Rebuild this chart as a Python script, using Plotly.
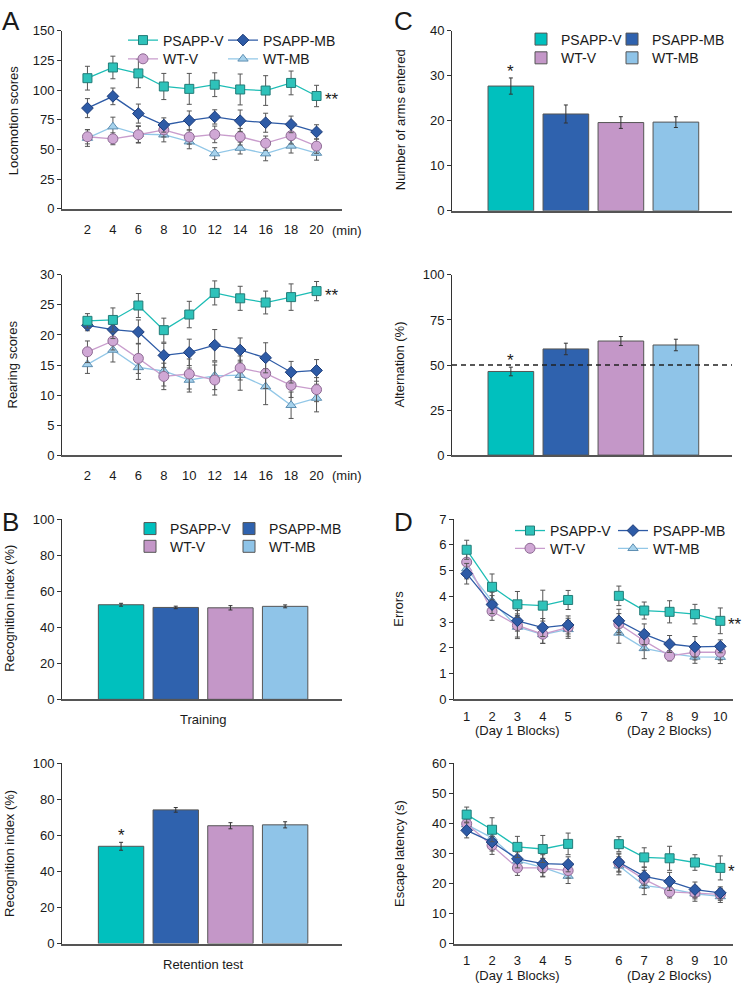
import plotly.graph_objects as go

W, H = 745, 991
FONT = "Liberation Sans"
TXT = "#1a1a1a"

groups = ["PSAPP-V", "PSAPP-MB", "WT-V", "WT-MB"]

# ---------- Panel A: open field ----------
minutes = [2, 4, 6, 8, 10, 12, 14, 16, 18, 20]
loco = {
    "PSAPP-V": [110, 119, 114, 103, 101, 104.5, 100.5, 99.6, 106, 95],
    "PSAPP-MB": [84.8, 94.7, 80.2, 70.6, 74.4, 77.4, 74.2, 72.5, 71.1, 64.8],
    "WT-V": [60.7, 59, 62.4, 66.5, 60.5, 62.7, 60.7, 55.3, 61.6, 52.8],
    "WT-MB": [59.6, 69.2, 62.9, 62.4, 56.6, 46.5, 51.2, 46.5, 53, 47],
}
loco_sem = {
    "PSAPP-V": [10, 9.5, 12, 11, 13, 10, 13, 12.5, 10, 9],
    "PSAPP-MB": [8, 7, 8, 6, 8, 6, 9, 8, 7, 6],
    "WT-V": [6, 5, 7, 6, 6, 7, 7, 6, 7, 6],
    "WT-MB": [7, 8, 7, 6, 6, 5, 5, 6, 6, 6],
}
rear = {
    "PSAPP-V": [22.35, 22.5, 24.9, 20.8, 23.4, 27.0, 26.1, 25.4, 26.3, 27.3],
    "PSAPP-MB": [21.6, 20.9, 20.5, 16.6, 17.1, 18.3, 17.5, 16.2, 13.8, 14.1],
    "WT-V": [17.2, 19.0, 16.1, 13.1, 13.5, 12.5, 14.5, 13.6, 11.6, 10.9],
    "WT-MB": [15.1, 17.5, 14.6, 14.0, 12.5, 13.2, 13.3, 11.4, 8.3, 9.5],
}
rear_sem = {
    "PSAPP-V": [1.2, 2, 2, 2, 2.2, 2, 2, 1.9, 2.2, 1.6],
    "PSAPP-MB": [0.9, 1.5, 2, 2, 2.2, 2.6, 2, 2.5, 1.8, 1.8],
    "WT-V": [1.8, 1.5, 2.5, 2.2, 2.5, 2.5, 2, 2.5, 2, 2],
    "WT-MB": [1.5, 2, 2, 2.5, 2, 2.3, 2.5, 3, 2.2, 2.3],
}

# ---------- Panel B: novel object recognition ----------
nor_training = [52.5, 51.0, 50.8, 51.6]
nor_training_sem = [0.8, 0.7, 1.2, 0.8]
nor_retention = [54.0, 74.2, 65.4, 65.9]
nor_retention_sem = [2.2, 1.3, 1.7, 1.7]

# ---------- Panel C: Y-maze ----------
arms_entered = [27.7, 21.5, 19.6, 19.7]
arms_entered_sem = [1.8, 2.0, 1.3, 1.2]
alternation = [46.4, 58.9, 63.3, 61.1]
alternation_sem = [2.4, 3.2, 2.5, 3.2]
CHANCE_LEVEL = 50

# ---------- Panel D: water maze ----------
blocks = [1, 2, 3, 4, 5, 6, 7, 8, 9, 10]
block_ticktext = [str(b) for b in blocks]
errors = {
    "PSAPP-V": [5.81, 4.37, 3.69, 3.64, 3.86, 4.02, 3.45, 3.40, 3.31, 3.05],
    "PSAPP-MB": [4.88, 3.68, 3.05, 2.79, 2.89, 3.05, 2.53, 2.15, 2.04, 2.06],
    "WT-V": [5.33, 3.42, 2.87, 2.53, 2.80, 2.93, 2.27, 1.69, 1.83, 1.83],
    "WT-MB": [5.08, 3.81, 2.81, 2.52, 2.72, 2.58, 1.98, 1.79, 1.65, 1.64],
}
errors_sem = {
    "PSAPP-V": [0.37, 0.5, 0.5, 0.6, 0.37, 0.38, 0.33, 0.43, 0.38, 0.5],
    "PSAPP-MB": [0.4, 0.35, 0.4, 0.35, 0.35, 0.45, 0.4, 0.33, 0.4, 0.25],
    "WT-V": [0.35, 0.35, 0.45, 0.35, 0.35, 0.4, 0.35, 0.2, 0.3, 0.3],
    "WT-MB": [0.4, 0.35, 0.45, 0.35, 0.35, 0.4, 0.4, 0.25, 0.25, 0.25],
}
latency = {
    "PSAPP-V": [42.95, 37.9, 32.2, 31.5, 33.2, 33.1, 28.7, 28.4, 27.0, 25.2],
    "PSAPP-MB": [37.7, 33.8, 28.2, 26.6, 26.4, 27.1, 22.4, 20.7, 18.0, 16.9],
    "WT-V": [39.9, 32.7, 25.2, 25.2, 24.3, 26.8, 21.4, 17.2, 16.9, 16.4],
    "WT-MB": [39.6, 35.2, 27.5, 25.4, 22.5, 25.9, 19.3, 18.3, 16.6, 15.7],
}
latency_sem = {
    "PSAPP-V": [2.5, 4, 3.5, 4.5, 3.6, 2.5, 3.2, 4, 2.6, 4],
    "PSAPP-MB": [2.5, 3, 3, 3, 2.5, 3, 3, 3, 2.5, 2],
    "WT-V": [2.5, 3, 2.5, 3, 2.5, 3, 3, 2, 2, 2],
    "WT-MB": [2.5, 3, 3, 3, 2.5, 3, 3, 2.5, 2.5, 2],
}

# ---------- styles ----------
line_style = {
    "PSAPP-V": dict(line="#1DBDB5", fill="#2EC2BA", edge="#237C78", symbol="square", size=9),
    "PSAPP-MB": dict(line="#2E5BA6", fill="#2E5BA6", edge="#1C3B78", symbol="diamond", size=9),
    "WT-V": dict(line="#C99DCD", fill="#D0A8D5", edge="#8D6A93", symbol="circle", size=10),
    "WT-MB": dict(line="#92C7E7", fill="#A6D2EC", edge="#5E8FB2", symbol="triangle-up", size=9),
}
bar_color = {"PSAPP-V": "#00C0BE", "PSAPP-MB": "#2F62AE", "WT-V": "#C497C8", "WT-MB": "#8FC4E8"}
draw_order = ["WT-MB", "WT-V", "PSAPP-MB", "PSAPP-V"]
legend_cell = {"PSAPP-V": (0, 0), "PSAPP-MB": (0, 1), "WT-V": (1, 0), "WT-MB": (1, 1)}


def px_x(p):
    return p / W


def px_y(p):
    return 1 - p / H


fig = go.Figure()

# axis domains in pixels: (x0, x1, ytop, ybottom)
boxes = {
    1: (62, 342, 24, 205),
    2: (62, 342, 272, 455),
    3: (62, 342, 520, 703),
    4: (62, 342, 768, 951),
    5: (452, 732, 24, 207),
    6: (452, 732, 272, 455),
    7: (454, 733, 520, 703),
    8: (454, 733, 768, 951),
}


def ax(i):
    return ("x" if i == 1 else f"x{i}"), ("y" if i == 1 else f"y{i}")


panels = ["A", "B", "C", "D"]


def legend_id(panel, g):
    n = panels.index(panel) * 4 + groups.index(g) + 1
    return "legend" if n == 1 else f"legend{n}"


def add_lines(i, xvals, data, sem, panel, showlegend):
    xa, ya = ax(i)
    for g in draw_order:
        s = line_style[g]
        fig.add_trace(go.Scatter(
            x=xvals, y=data[g], xaxis=xa, yaxis=ya, mode="lines+markers", name=g,
            line=dict(color=s["line"], width=1.3),
            marker=dict(symbol=s["symbol"], size=s["size"], color=s["fill"],
                        line=dict(color=s["edge"], width=1)),
            error_y=dict(type="data", array=sem[g], color="#555555", thickness=1, width=2.5),
            connectgaps=False, showlegend=showlegend, legend=legend_id(panel, g),
        ))


def add_bars(i, vals, sem, panel, showlegend):
    xa, ya = ax(i)
    for k, g in enumerate(groups):
        fig.add_trace(go.Bar(
            x=[g], y=[vals[k]], xaxis=xa, yaxis=ya, name=g, width=0.83,
            marker=dict(color=bar_color[g], line=dict(color="#555555", width=1)),
            error_y=dict(type="data", array=[sem[k]], color="#333333", thickness=1, width=2),
            showlegend=showlegend, legend=legend_id(panel, g),
        ))


add_lines(1, minutes, loco, loco_sem, "A", True)
add_lines(2, minutes, rear, rear_sem, "A", False)
add_bars(3, nor_training, nor_training_sem, "B", True)
add_bars(4, nor_retention, nor_retention_sem, "B", False)
add_bars(5, arms_entered, arms_entered_sem, "C", True)
add_bars(6, alternation, alternation_sem, "C", False)

# water-maze blocks: gap between day 1 and day 2
block_pos = [b if b <= 5 else b + 1 for b in blocks]
xpos_gap = block_pos[:5] + [None] + block_pos[5:]


def with_gap(d):
    return {g: v[:5] + [None] + v[5:] for g, v in d.items()}


add_lines(7, xpos_gap, with_gap(errors), with_gap(errors_sem), "D", True)
add_lines(8, xpos_gap, with_gap(latency), with_gap(latency_sem), "D", False)

# ---------- axes ----------
yspec = {1: (150, 25), 2: (30, 5), 3: (100, 20), 4: (100, 20),
         5: (40, 10), 6: (100, 25), 7: (7, 1), 8: (60, 10)}
layout_axes = {}
for i, (x0, x1, yt, yb) in boxes.items():
    xk = "xaxis" if i == 1 else f"xaxis{i}"
    yk = "yaxis" if i == 1 else f"yaxis{i}"
    ymax, dt = yspec[i]
    xa, ya = ax(i)
    xd = dict(domain=[px_x(x0), px_x(x1)], anchor=ya, showline=True, linecolor="#555555",
              linewidth=1.5, ticks="", showgrid=False, zeroline=False,
              tickfont=dict(size=13, color=TXT, family=FONT), fixedrange=True)
    if i in (1, 2):
        xd.update(range=[0, 22], tickmode="array", tickvals=minutes, ticktext=[str(m) for m in minutes],
                  ticklabelstandoff=8)
    elif i in (3, 4):
        xd.update(range=[-1.08, 4.04], showticklabels=False, type="category")
    elif i in (5, 6):
        xd.update(range=[-1.07, 4.02], showticklabels=False, type="category")
    else:
        xd.update(range=[0.5, 11.5], tickmode="array", tickvals=block_pos, ticktext=block_ticktext,
                  ticklabelstandoff=4)
    yd = dict(domain=[px_y(yb), px_y(yt)], anchor=xa, range=[0, ymax], dtick=dt, tick0=0,
              showline=True, linecolor="#333333", linewidth=1, ticks="outside", ticklen=4,
              tickwidth=1, tickcolor="#333333", showgrid=False, zeroline=False,
              tickfont=dict(size=13, color=TXT, family=FONT), fixedrange=True)
    layout_axes[xk] = xd
    layout_axes[yk] = yd

fig.update_layout(**layout_axes)

# ---------- legends: one per entry, 2x2 grid per panel ----------
leg_pos = {  # panel: (text x col0, text x col1, row0 y, row1 y)  in px
    "A": (165, 265, 34, 53),
    "B": (172, 271, 530, 548),
    "C": (563, 654, 33, 52),
    "D": (552, 655, 532, 550),
}
TEXT_OFFSET = 42
legends = {}
for p, (c0, c1, r0, r1) in leg_pos.items():
    for g in groups:
        row, col = legend_cell[g]
        lx = (c0, c1)[col] - TEXT_OFFSET
        yy = (r0, r1)[row]
        legends[legend_id(p, g)] = dict(
            orientation="v", x=px_x(lx), y=px_y(yy), xanchor="left", yanchor="middle",
            xref="paper", yref="paper",
            font=dict(size=14, color=TXT, family=FONT), bgcolor="rgba(0,0,0,0)",
            itemwidth=30, tracegroupgap=0, itemclick=False, itemdoubleclick=False,
        )
fig.update_layout(**legends)

# ---------- annotations ----------
ann = []


def text_px(x, y, t, size=13, angle=0, xanchor="center"):
    ann.append(dict(x=px_x(x), y=px_y(y), xref="paper", yref="paper", text=t, showarrow=False,
                    textangle=angle, xanchor=xanchor, yanchor="middle",
                    font=dict(size=size, color=TXT, family=FONT)))


# panel letters
text_px(11, 14, "A", 26)
text_px(10, 523, "B", 26)
text_px(403, 14, "C", 26)
text_px(403, 523, "D", 26)

# y titles
text_px(13, 115, "Locomotion scores", 13, -90)
text_px(13, 363, "Rearing scores", 13, -90)
text_px(10, 611, "Recognition index (%)", 13, -90)
text_px(10, 860, "Recognition index (%)", 13, -90)
text_px(400, 115, "Number of arms entered", 13, -90)
text_px(400, 363, "Alternation (%)", 13, -90)
text_px(399, 611, "Errors", 13, -90)
text_px(400, 860, "Escape latency (s)", 13, -90)

# x titles
text_px(347, 227, "(min)", 13)
text_px(347, 476, "(min)", 13)
text_px(203, 723, "Training", 13)
text_px(203, 972, "Retention test", 13)

# day labels under block axes
for i, yy in ((7, 735), (8, 983)):
    xa, _ = ax(i)
    for lab, bpos in (("(Day 1 Blocks)", block_pos[2]), ("(Day 2 Blocks)", block_pos[7])):
        ann.append(dict(x=bpos, y=px_y(yy), xref=xa, yref="paper", text=lab, showarrow=False,
                        xanchor="center", yanchor="middle",
                        font=dict(size=13, color=TXT, family=FONT)))


# significance stars next to last points
def star_right(i, xv, yv, t):
    xa, ya = ax(i)
    ann.append(dict(x=xv, y=yv, xref=xa, yref=ya, text=t, showarrow=False, xanchor="left",
                    yanchor="middle", xshift=6, yshift=-4,
                    font=dict(size=17, color=TXT, family=FONT)))


star_right(1, minutes[-1], loco["PSAPP-V"][-1], "**")
star_right(2, minutes[-1], rear["PSAPP-V"][-1], "**")
star_right(7, block_pos[-1], errors["PSAPP-V"][-1], "**")
star_right(8, block_pos[-1], latency["PSAPP-V"][-1], "*")


def star_above(i, k, vals, sem):
    xa, ya = ax(i)
    ann.append(dict(x=groups[k], y=vals[k] + sem[k], xref=xa, yref=ya, text="*", showarrow=False,
                    xanchor="center", yanchor="bottom", yshift=-5,
                    font=dict(size=17, color=TXT, family=FONT)))


star_above(4, 0, nor_retention, nor_retention_sem)
star_above(5, 0, arms_entered, arms_entered_sem)
star_above(6, 0, alternation, alternation_sem)

fig.update_layout(annotations=ann)

# chance-level dashed line in alternation panel
fig.add_shape(type="line", xref="x6 domain", yref="y6", x0=0, x1=1.0, y0=CHANCE_LEVEL, y1=CHANCE_LEVEL,
              line=dict(color="#222222", width=1.5, dash="5px,4px"), layer="above")

fig.update_layout(
    width=W, height=H, margin=dict(l=0, r=0, t=0, b=0),
    paper_bgcolor="white", plot_bgcolor="white", barmode="overlay",
    font=dict(family=FONT, color=TXT), showlegend=True,
)

fig.write_html("out.html", config={"displayModeBar": False},
               post_script="document.body.style.margin='0';")
